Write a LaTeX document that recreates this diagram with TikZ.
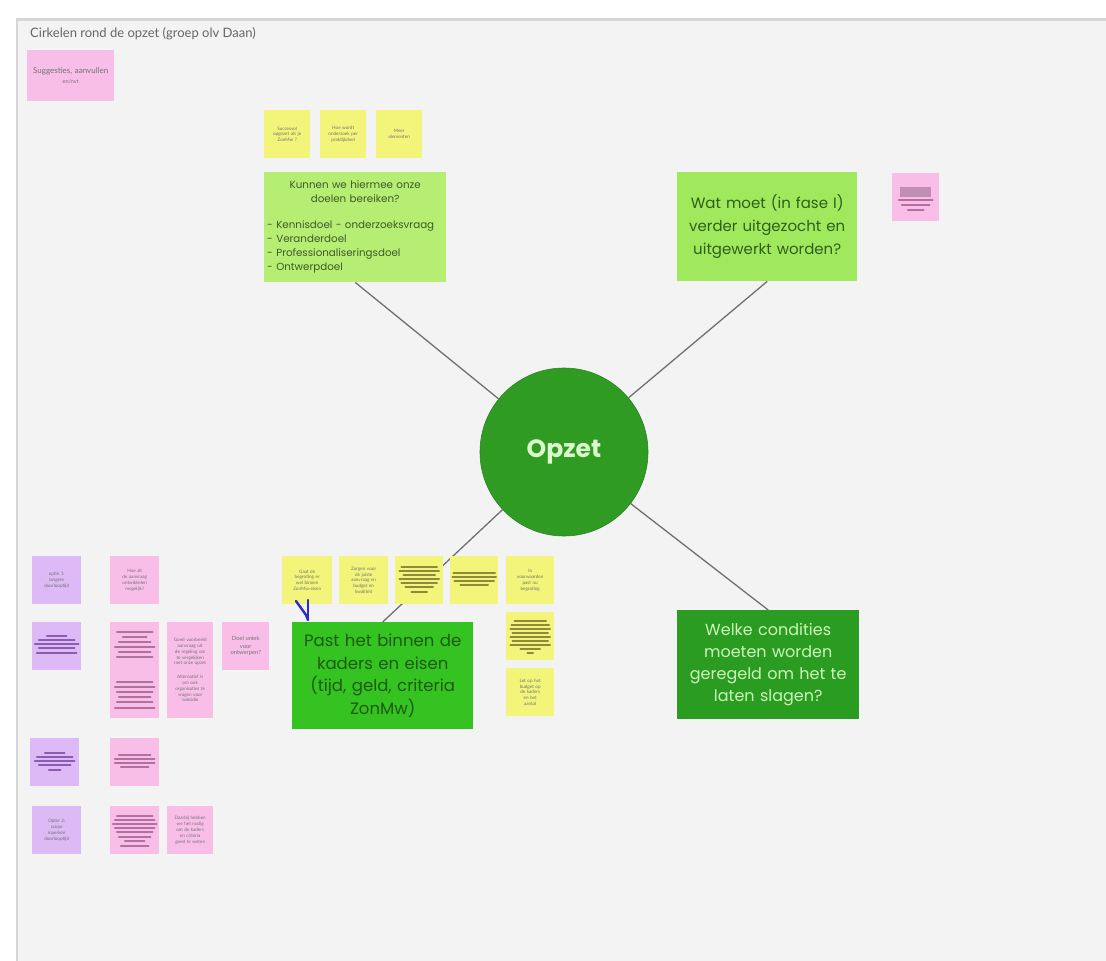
\documentclass[tikz,border=0pt]{standalone}
\usepackage{fontspec}
\setmainfont{Lato}
\newfontfamily\boxfont{Poppins}
\definecolor{board}{HTML}{F3F3F3}
\definecolor{frameline}{HTML}{D6D6D6}
\definecolor{stY}{HTML}{F3F57A}
\definecolor{stP}{HTML}{F8BEE8}
\definecolor{stV}{HTML}{DDB9F5}
\definecolor{barY}{HTML}{8E8A3C}
\definecolor{barP}{HTML}{B070A0}
\definecolor{barV}{HTML}{8B5CB2}
\definecolor{gA}{HTML}{B5EE72}
\definecolor{gB}{HTML}{A1E95C}
\definecolor{gC}{HTML}{34C320}
\definecolor{gD}{HTML}{2B9C22}
\definecolor{gO}{HTML}{2F9B22}
\definecolor{txA}{HTML}{3E5B2B}
\definecolor{txB}{HTML}{2E5E1C}
\definecolor{txC}{HTML}{1E5A12}
\definecolor{txD}{HTML}{CDF5B8}
\definecolor{conn}{HTML}{707070}
\definecolor{bluemark}{HTML}{2B2BD0}
\tikzset{
  sticky/.style={anchor=north west, inner sep=1pt, align=center, text width=44pt,
    minimum width=48pt, minimum height=48pt, text=black!55,
    font=\fontsize{4.6}{5.8}\selectfont},
  ynote/.style={sticky, fill=stY},
  pnote/.style={sticky, fill=stP},
  vnote/.style={sticky, fill=stV},
  bigbox/.style={anchor=north west, inner sep=3pt, align=center},
  connector/.style={draw=conn, line width=1.3pt},
  barline/.style={line width=1.3pt, line cap=round}
}
\begin{document}
\begin{tikzpicture}[x=1pt,y=-1pt]
\useasboundingbox (0,0) rectangle (1106,961);
\fill[white] (0,0) rectangle (1106,961);
\fill[board] (18,20) rectangle (1106,961);
\draw[frameline, line width=3pt] (16,19.5) -- (1106,19.5);
\draw[frameline, line width=2.5pt] (17,19) -- (17,961);

% title
\node[anchor=west, text=black!60, font=\fontsize{13}{14}\selectfont, inner sep=0pt] (title) at (30,34) {Cirkelen rond de opzet (groep olv Daan)};

% top-left pink note
\node[pnote, minimum width=87pt, minimum height=51pt, text width=84pt, font=\fontsize{8}{10}\selectfont] (sugg) at (27,50) {Suggesties, aanvullen\\{\fontsize{5.5}{7}\selectfont en/nvt}};

% top yellow notes
\node[ynote, minimum width=46pt] (t1) at (264,110) {Succesvol\\opgezet als je\\ZonMw ?};
\node[ynote, minimum width=46pt] (t2) at (320,110) {Hoe wordt\\onderzoek per\\praktijkdeel};
\node[ynote, minimum width=46pt] (t3) at (376,110) {Meer\\elementen};

% big boxes
\node[bigbox, fill=gA, minimum width=182pt, minimum height=110pt, text width=176pt, align=left,
  text=txA, font=\boxfont\fontsize{10.3}{14}\selectfont] (b1) at (264,172)
  {\centering Kunnen we hiermee onze\\doelen bereiken?\par\vspace{12pt}\raggedright
   - Kennisdoel - onderzoeksvraag\\- Veranderdoel\\- Professionaliseringsdoel\\- Ontwerpdoel};

\node[bigbox, fill=gB, minimum width=180pt, minimum height=109pt, text width=174pt,
  text=txB, font=\boxfont\fontsize{15}{23}\selectfont] (b2) at (677,172)
  {Wat moet (in fase I)\\verder uitgezocht en\\uitgewerkt worden?};

\node[bigbox, fill=gC, minimum width=181pt, minimum height=107pt, text width=175pt,
  text=txC, font=\boxfont\fontsize{16.5}{22.5}\selectfont] (b3) at (292,622)
  {Past het binnen de\\kaders en eisen\\(tijd, geld, criteria\\ZonMw)};

\node[bigbox, fill=gD, minimum width=180pt, minimum height=109pt, text width=176pt,
  text=txD, font=\boxfont\fontsize{16}{22}\selectfont] (b4) at (677,610)
  {Welke condities\\moeten worden\\geregeld om het te\\laten slagen?};

% center circle
\node[circle, fill=gO, draw=gO!85!black, line width=0.6pt, minimum size=168pt, inner sep=0pt,
  text=txD!70!white, font=\boxfont\fontsize{25}{28}\selectfont\bfseries] (opzet) at (564,452) {Opzet};

% connectors
\draw[connector] (b1.south) -- (opzet);
\draw[connector] (b2.south) -- (opzet);
\draw[connector] (b3.north) -- (opzet);
\draw[connector] (b4.north) -- (opzet);

% right pink note with bars
\node[pnote, minimum width=47pt] (r1) at (892,173) {};
\fill[barP!80] ([xshift=8pt,yshift=-14pt]r1.north west) rectangle ([xshift=-8pt,yshift=-24pt]r1.north east);
\foreach \dy/\w in {27/17,32/14,37/8}
  \draw[barP, barline] ([yshift=-\dy pt, xshift=-\w pt]r1.north) -- ([yshift=-\dy pt, xshift=\w pt]r1.north);

% bottom yellow notes
\node[ynote, minimum width=50pt] (y1) at (282,556) {Gaat de\\begroting er\\wel binnen\\ZonMw-eisen};
\node[ynote, minimum width=49pt] (y2) at (339,556) {Zorgen voor\\de juiste\\aanvraag en\\budget en\\kwaliteit};
\node[ynote, minimum width=48pt] (y3) at (395,556) {};
\node[ynote, minimum width=48pt] (y4) at (450,556) {};
\node[ynote, minimum width=48pt] (y5) at (506,556) {In\\voorwaarden\\past nu\\begroting};
\node[ynote, minimum width=48pt] (y6) at (506,612) {};
\node[ynote, minimum width=48pt] (y7) at (506,668) {Let op het\\budget op\\de kaders\\en het\\aantal};

\foreach \dy/\w in {11/18,15/20,19/16,23/20,27/18,31/14,36/8}
  \draw[barY, barline] ([yshift=-\dy pt, xshift=-\w pt]y3.north) -- ([yshift=-\dy pt, xshift=\w pt]y3.north);
\foreach \dy/\w in {17/21,21/22,25/20,29/14}
  \draw[barY, barline] ([yshift=-\dy pt, xshift=-\w pt]y4.north) -- ([yshift=-\dy pt, xshift=\w pt]y4.north);
\foreach \dy/\w in {9/16,13/19,17/20,21/18,25/20,29/18,33/20,37/10,41/3}
  \draw[barY, barline] ([yshift=-\dy pt, xshift=-\w pt]y6.north) -- ([yshift=-\dy pt, xshift=\w pt]y6.north);

% blue mark
\draw[bluemark, line width=2.4pt, line cap=round, line join=round] (296,601) -- (306,615) -- (308,620);
\draw[bluemark, line width=2.4pt, line cap=round] (308,600) -- (308,619);

% left cluster
\node[vnote, minimum width=49pt] (v1) at (32,556) {optie 1:\\langere\\doorlooptijd};
\node[pnote, minimum width=49pt] (p1) at (110,556) {Hoe zit\\de aanvraag\\ontwikkelen\\mogelijk?};
\node[vnote, minimum width=49pt] (v2) at (32,622) {};
\foreach \dy/\w in {14/10,18/18,22/22,26/18,31/20}
  \draw[barV, barline] ([yshift=-\dy pt, xshift=-\w pt]v2.north) -- ([yshift=-\dy pt, xshift=\w pt]v2.north);

\node[pnote, minimum width=49pt, minimum height=96pt] (p2) at (110,622) {};
\foreach \dy/\w in {10/18,15/12,20/16,25/20,30/16,35/18}
  \draw[barP, barline] ([yshift=-\dy pt, xshift=-\w pt]p2.north) -- ([yshift=-\dy pt, xshift=\w pt]p2.north);
\foreach \dy/\w in {60/18,65/20,70/18,75/16,80/18,86/20}
  \draw[barP, barline] ([yshift=-\dy pt, xshift=-\w pt]p2.north) -- ([yshift=-\dy pt, xshift=\w pt]p2.north);

\node[pnote, minimum width=46pt, minimum height=96pt, text width=42pt] (p3) at (167,622)
  {Goed voorbeeld\\aanvraag uit\\de regeling om\\te vergelijken\\met onze opzet\\[8pt]Alternatief is\\om ook\\organisaties te\\vragen voor\\subsidie};
\node[pnote, minimum width=47pt] (p4) at (222,622) {\fontsize{5.8}{8}\selectfont Doel uniek\\voor\\ontwerpen?};

\node[vnote, minimum width=49pt] (v3) at (30,738) {};
\foreach \dy/\w in {15/10,19/18,23/20,27/16,32/6}
  \draw[barV, barline] ([yshift=-\dy pt, xshift=-\w pt]v3.north) -- ([yshift=-\dy pt, xshift=\w pt]v3.north);
\node[pnote, minimum width=49pt] (p5) at (110,738) {};
\foreach \dy/\w in {17/16,21/20,25/20,29/14}
  \draw[barP, barline] ([yshift=-\dy pt, xshift=-\w pt]p5.north) -- ([yshift=-\dy pt, xshift=\w pt]p5.north);

\node[vnote, minimum width=49pt] (v4) at (32,806) {Optie 2:\\scope\\inperken\\doorlooptijd};
\node[pnote, minimum width=49pt] (p6) at (110,806) {};
\foreach \dy/\w in {10/18,14/20,18/22,22/20,26/18,31/16,35/10,40/14}
  \draw[barP, barline] ([yshift=-\dy pt, xshift=-\w pt]p6.north) -- ([yshift=-\dy pt, xshift=\w pt]p6.north);
\node[pnote, minimum width=46pt, text width=42pt] (p7) at (167,806) {Daarbij hebben\\we het nodig\\om de kaders\\en criteria\\goed te weten};
\end{tikzpicture}
\end{document}
